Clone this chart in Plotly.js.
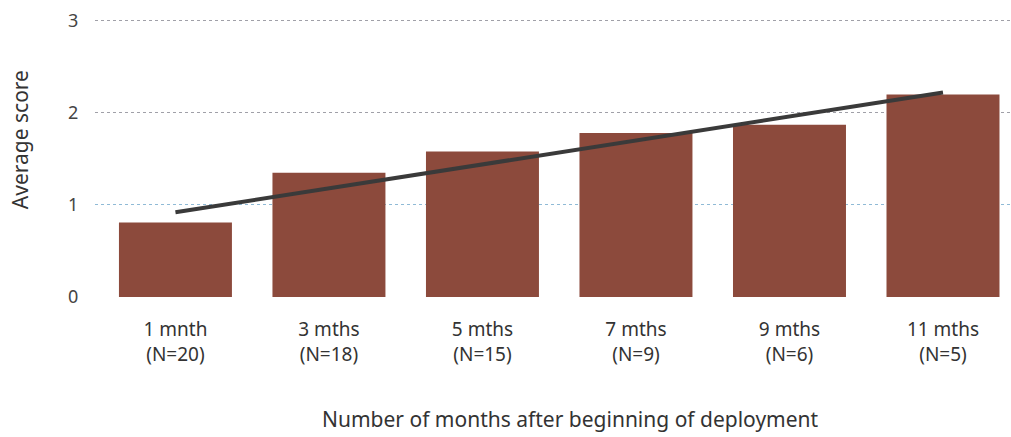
<!DOCTYPE html>
<html>
<head>
<meta charset="utf-8">
<script src="https://cdn.plot.ly/plotly-3.0.1.min.js"></script>
<style>html,body{margin:0;padding:0;background:#fff;}#chart{width:1011px;height:437px;}</style>
</head>
<body>
<div id="chart"></div>
<script>
const categories = ["1 mnth<br>(N=20)", "3 mths<br>(N=18)", "5 mths<br>(N=15)", "7 mths<br>(N=9)", "9 mths<br>(N=6)", "11 mths<br>(N=5)"];
const averageScores = [0.81, 1.35, 1.58, 1.78, 1.87, 2.20];
const trendCategories = [categories[0], categories[5]];
const trendValues = [0.92, 2.22];
const yTickValues = [0, 1, 2, 3];
const yTickLabels = ["0", "1", "2", "3"];

const fontFam = "Noto Sans, Open Sans, sans-serif";

const traces = [
  {
    type: "bar",
    x: categories,
    y: averageScores,
    marker: {color: "#8c4a3c", line: {width: 0}},
    hoverinfo: "skip"
  },
  {
    type: "scatter",
    mode: "lines",
    x: trendCategories,
    y: trendValues,
    line: {color: "#3a3a3a", width: 4},
    hoverinfo: "skip"
  }
];

const yRange = [0, 3.03];

const layout = {
  width: 1011,
  height: 437,
  margin: {l: 95, r: 0, t: 18, b: 140},
  paper_bgcolor: "#ffffff",
  plot_bgcolor: "#ffffff",
  showlegend: false,
  bargap: 0.264,
  font: {family: fontFam, color: "#333333"},
  xaxis: {
    type: "category",
    range: [-0.524, 5.443],
    showgrid: false,
    zeroline: false,
    showline: false,
    ticks: "outside",
    ticklen: 15,
    tickcolor: "rgba(0,0,0,0)",
    tickfont: {family: fontFam, size: 19, color: "#333333"}
  },
  yaxis: {
    range: yRange,
    tickvals: yTickValues,
    ticktext: yTickLabels,
    showgrid: false,
    zeroline: false,
    showline: false,
    ticks: "outside",
    ticklen: 12,
    tickcolor: "rgba(0,0,0,0)",
    tickfont: {family: fontFam, size: 18, color: "#444444"}
  },
  yaxis2: {
    overlaying: "y",
    range: yRange,
    tickvals: [yTickValues[2], yTickValues[3]],
    showticklabels: false,
    showgrid: true,
    gridcolor: "#a0a0a8",
    griddash: "dot",
    gridwidth: 1,
    zeroline: false
  },
  yaxis3: {
    overlaying: "y",
    range: yRange,
    tickvals: [yTickValues[1]],
    showticklabels: false,
    showgrid: true,
    gridcolor: "#8fbad6",
    griddash: "dot",
    gridwidth: 1,
    zeroline: false
  },
  annotations: [
    {
      text: "Average score",
      xref: "paper", yref: "paper",
      x: -0.081, y: 0.565,
      xanchor: "center", yanchor: "middle",
      textangle: -90,
      showarrow: false,
      font: {family: fontFam, size: 21, color: "#333333"}
    },
    {
      text: "Number of months after beginning of deployment",
      xref: "paper", yref: "paper",
      x: 0.519, y: -0.438,
      xanchor: "center", yanchor: "middle",
      showarrow: false,
      font: {family: fontFam, size: 21, color: "#333333"}
    }
  ]
};

traces.push({type: "scatter", x: [], y: [], yaxis: "y2", hoverinfo: "skip"});
traces.push({type: "scatter", x: [], y: [], yaxis: "y3", hoverinfo: "skip"});

Plotly.newPlot("chart", traces, layout, {displayModeBar: false, staticPlot: true});
</script>
</body>
</html>
